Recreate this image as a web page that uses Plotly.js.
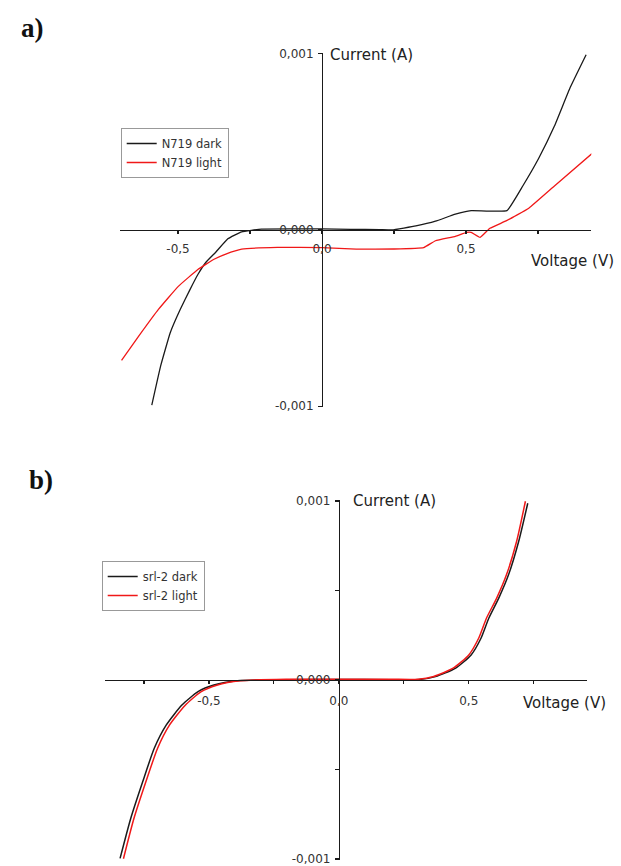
<!DOCTYPE html>
<html>
<head>
<meta charset="utf-8">
<script src="https://cdn.plot.ly/plotly-3.0.1.min.js"></script>
<style>html,body{margin:0;padding:0;background:#fff;}#chart{width:621px;height:866px;}</style>
</head>
<body>
<div id="chart"></div>
<script>
// Panel a) N719
var aDarkV = [-0.591, -0.56, -0.527, -0.492, -0.458, -0.43, -0.403, -0.369, -0.327, -0.279, -0.21, -0.1, 0, 0.1, 0.2, 0.243, 0.326, 0.394, 0.463, 0.518, 0.642, 0.697, 0.752, 0.807, 0.862, 0.917];
var aDarkI = [-0.000994, -0.00077, -0.000583, -0.00045, -0.000337, -0.00025, -0.000183, -0.000126, -0.00005, -0.00001, 0.000005, 0.000006, 0.000006, 0.000004, 0.000002, 0, 0.000023, 0.00005, 0.00009, 0.00011, 0.00011, 0.00025, 0.000406, 0.00059, 0.00081, 0.000995];
var aLightV = [-0.696, -0.637, -0.568, -0.499, -0.43, -0.375, -0.334, -0.279, -0.155, 0, 0.119, 0.25, 0.353, 0.394, 0.463, 0.502, 0.518, 0.549, 0.583, 0.641, 0.718, 0.807, 0.9375];
var aLightI = [-0.00074, -0.000604, -0.000451, -0.00032, -0.000223, -0.000166, -0.000137, -0.000109, -0.000099, -0.0001, -0.000109, -0.000108, -0.0001, -0.000061, -0.000036, -0.000013, -0.000013, -0.000042, 0.00001, 0.000053, 0.000124, 0.00025, 0.000434];

// Panel b) srl-2
var bDarkV = [-0.842, -0.801, -0.755, -0.71, -0.664, -0.604, -0.542, -0.481, -0.39, -0.2, 0, 0.2, 0.311, 0.372, 0.448, 0.509, 0.547, 0.577, 0.615, 0.653, 0.692, 0.727];
var bDarkI = [-0.000996, -0.000773, -0.000568, -0.00038, -0.000251, -0.00014, -0.000065, -0.000028, -0.000004, 0.000002, 0.000003, 0.000002, 0.000003, 0.000019, 0.000065, 0.00014, 0.000233, 0.000345, 0.000456, 0.000587, 0.000773, 0.000987];
var bLightV = [-0.829, -0.789, -0.743, -0.698, -0.652, -0.592, -0.531, -0.47, -0.38, -0.2, 0, 0.2, 0.305, 0.365, 0.44, 0.5, 0.538, 0.568, 0.607, 0.645, 0.684, 0.718];
var bLightI = [-0.000998, -0.000775, -0.00057, -0.000382, -0.000252, -0.000142, -0.000066, -0.000029, -0.000004, 0.000004, 0.000004, 0.000004, 0.000004, 0.00002, 0.000066, 0.00014, 0.000233, 0.000345, 0.000456, 0.000587, 0.000773, 0.000998];

var aXTickVals = [-0.5, -0.25, 0, 0.25, 0.5, 0.75];
var aXTickText = ['-0,5', '', '0,0', '', '0,5', ''];
var bXTickVals = [-0.75, -0.5, -0.25, 0, 0.25, 0.5, 0.75];
var bXTickText = ['', '-0,5', '', '0,0', '', '0,5', ''];
var aYTickVals = [-0.001, 0, 0.001];
var aYTickText = ['-0,001', '0,000', '0,001'];
var bYTickVals = [-0.001, -0.0005, 0, 0.0005, 0.001];
var bYTickText = ['-0,001', '', '0,000', '', '0,001'];

var W = 621, H = 866;
var FONT = 'DejaVu Sans, sans-serif';

// geometry (pixels)
var aXr = [-0.7, 0.935], aXpx = [120.4, 591.3];
var aYr = [-0.001005, 0.001005], aYpx = [407, 53];
var bXr = [-0.9, 0.955], bXpx = [105, 587];
var bYr = [-0.001005, 0.001005], bYpx = [860, 500];

function xdom(px){ return [px[0]/W, px[1]/W]; }
function ydom(px){ return [1 - px[0]/H, 1 - px[1]/H]; }
function zeroPos(r, d){ return d[0] + (0 - r[0])/(r[1]-r[0])*(d[1]-d[0]); }

var aXd = xdom(aXpx), aYd = ydom(aYpx), bXd = xdom(bXpx), bYd = ydom(bYpx);

function xAxis(r, d, yr, yd, tv, tt, so){
  return {range: r, domain: d, anchor: 'free', position: zeroPos(yr, yd),
    showline: true, linecolor: '#1a1a1a', linewidth: 1.4, showgrid: false, zeroline: false,
    ticks: 'outside', ticklen: 3, tickwidth: 1.2, tickcolor: '#1a1a1a', ticklabelstandoff: so,
    ticklabeloverflow: 'allow',
    tickvals: tv, ticktext: tt, tickfont: {family: FONT, size: 12, color: '#333'},
    fixedrange: true};
}
function yAxis(r, d, xr, xd, tv, tt){
  return {range: r, domain: d, anchor: 'free', position: zeroPos(xr, xd),
    showline: true, linecolor: '#1a1a1a', linewidth: 1.4, showgrid: false, zeroline: false,
    ticks: 'outside', ticklen: 4, tickwidth: 1.2, tickcolor: '#1a1a1a', ticklabelstandoff: 2,
    ticklabeloverflow: 'allow',
    tickvals: tv, ticktext: tt, tickfont: {family: FONT, size: 12, color: '#333'},
    fixedrange: true};
}

var traces = [
  {x: aDarkV, y: aDarkI, xaxis: 'x', yaxis: 'y', mode: 'lines', name: 'N719 dark',
   line: {color: '#1a1a1a', width: 1.3, shape: 'spline', smoothing: 0.3}, legend: 'legend'},
  {x: aLightV, y: aLightI, xaxis: 'x', yaxis: 'y', mode: 'lines', name: 'N719 light',
   line: {color: '#f01818', width: 1.3, shape: 'spline', smoothing: 0.3}, legend: 'legend'},
  {x: bDarkV, y: bDarkI, xaxis: 'x2', yaxis: 'y2', mode: 'lines', name: 'srl-2 dark',
   line: {color: '#1a1a1a', width: 1.5, shape: 'spline', smoothing: 0.6}, legend: 'legend2'},
  {x: bLightV, y: bLightI, xaxis: 'x2', yaxis: 'y2', mode: 'lines', name: 'srl-2 light',
   line: {color: '#f01818', width: 1.5, shape: 'spline', smoothing: 0.6}, legend: 'legend2'}
];

var legendStyle = {bgcolor: '#fff', bordercolor: '#999', borderwidth: 1,
  font: {family: FONT, size: 11.5, color: '#333'}, xanchor: 'left', yanchor: 'top',
  tracegroupgap: 0, itemwidth: 30};

var layout = {
  width: W, height: H,
  margin: {l: 0, r: 0, t: 0, b: 0},
  paper_bgcolor: '#fff', plot_bgcolor: 'rgba(0,0,0,0)',
  showlegend: true,
  legend: Object.assign({x: 120.7/W, y: 1 - 128/H}, legendStyle),
  legend2: Object.assign({x: 101.7/W, y: 1 - 561/H}, legendStyle),
  xaxis: xAxis(aXr, aXd, aYr, aYd, aXTickVals, aXTickText, 4),
  yaxis: yAxis(aYr, aYd, aXr, aXd, aYTickVals, aYTickText),
  xaxis2: xAxis(bXr, bXd, bYr, bYd, bXTickVals, bXTickText, 6),
  yaxis2: yAxis(bYr, bYd, bXr, bXd, bYTickVals, bYTickText),
  annotations: [
    {xref: 'paper', yref: 'paper', x: 19/W, y: 1 - 28/H, xanchor: 'left', yanchor: 'middle',
     text: '<b>a)</b>', showarrow: false, font: {family: 'Liberation Serif, serif', size: 27, color: '#111'}},
    {xref: 'paper', yref: 'paper', x: 27/W, y: 1 - 480/H, xanchor: 'left', yanchor: 'middle',
     text: '<b>b)</b>', showarrow: false, font: {family: 'Liberation Serif, serif', size: 27, color: '#111'}},
    {xref: 'x', yref: 'y', x: 0, y: 0.001, xanchor: 'left', yanchor: 'middle', xshift: 6, yshift: -1,
     text: 'Current (A)', showarrow: false, font: {family: FONT, size: 15, color: '#222'}},
    {xref: 'x', yref: 'y', x: 0.871, y: 0, xanchor: 'center', yanchor: 'middle', yshift: -31,
     text: 'Voltage (V)', showarrow: false, font: {family: FONT, size: 15, color: '#222'}},
    {xref: 'x2', yref: 'y2', x: 0, y: 0.001, xanchor: 'left', yanchor: 'middle', xshift: 12, yshift: 0,
     text: 'Current (A)', showarrow: false, font: {family: FONT, size: 15, color: '#222'}},
    {xref: 'x2', yref: 'y2', x: 0.867, y: 0, xanchor: 'center', yanchor: 'middle', yshift: -23,
     text: 'Voltage (V)', showarrow: false, font: {family: FONT, size: 15, color: '#222'}}
  ]
};

Plotly.newPlot('chart', traces, layout, {displayModeBar: false, staticPlot: true});
</script>
</body>
</html>
